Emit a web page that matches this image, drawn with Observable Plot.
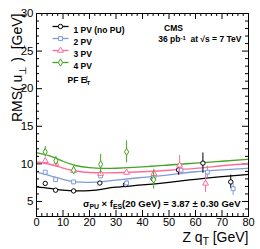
<!DOCTYPE html>
<html>
<head>
<meta charset="utf-8">
<script src="https://cdn.jsdelivr.net/npm/d3@7"></script>
<script src="https://cdn.jsdelivr.net/npm/@observablehq/plot@0.6"></script>
<style>
  html, body { margin: 0; padding: 0; background: white; }
</style>
</head>
<body>
<div id="chart"></div>
<script>
// ---- data ----
const seriesNames = ["1 PV (no PU)", "2 PV", "3 PV", "4 PV"];
const seriesColors = ["#000000", "#7e9bdb", "#ff6c9c", "#44a523"];
const seriesSymbols = ["circle", "square", "triangle", "diamond"];

// measured points
const pv1X = [3.3, 7.2, 14, 23.9, 33.6, 44, 53.6, 62.8, 73.3];
const pv1Y = [7.4, 6.5, 6.4, 7.45, 7.25, 8.0, 9.2, 10.1, 7.6];
const pv1E = [0.15, 0.1, 0.1, 0.15, 0.2, 0.4, 0.7, 1.35, 0.9];

const pv2X = [3.3, 7.2, 14, 24.2, 34, 44.3, 54.5, 64.5, 74.2];
const pv2Y = [8.9, 7.9, 7.6, 8.4, 7.45, 8.3, 9.15, 8.9, 6.7];
const pv2E = [0.15, 0.15, 0.15, 0.2, 0.3, 0.45, 0.6, 0.8, 0.9];

const pv3X = [3.3, 7.3, 14, 24.2, 34, 44.3, 54, 63.8];
const pv3Y = [10.4, 10.0, 9.1, 8.7, 8.85, 8.7, 9.8, 7.4];
const pv3E = [0.2, 0.25, 0.25, 0.3, 0.4, 0.6, 1.3, 1.2];

const pv4X = [3.3, 7.3, 14, 24.2, 34, 44.2];
const pv4Y = [11.6, 10.4, 9.15, 9.95, 11.6, 7.9];
const pv4E = [0.7, 0.6, 0.55, 1.3, 1.45, 1.25];

// fitted curves
const fitX = [0, 5, 10, 15, 20, 25, 30, 40, 50, 60, 70, 80];
const fit1 = [6.95, 6.75, 6.5, 6.4, 6.45, 6.65, 6.9, 7.2, 7.55, 7.95, 8.3, 8.6];
const fit2 = [8.9, 8.45, 7.95, 7.6, 7.55, 7.65, 7.85, 8.2, 8.55, 8.95, 9.2, 9.4];
const fit3 = [10.25, 9.95, 9.45, 9.05, 8.85, 8.8, 8.82, 8.95, 9.15, 9.4, 9.75, 10.05];
const fit4 = [11.5, 11.05, 10.35, 9.75, 9.5, 9.4, 9.42, 9.6, 9.85, 10.1, 10.35, 10.6];

const xMajor = [0, 10, 20, 30, 40, 50, 60, 70, 80];
const yMajor = [5, 10, 15, 20, 25, 30];
const xMinor = d3.range(0, 81, 2).filter(v => v % 10 !== 0);
const yMinor = d3.range(3, 31, 1).filter(v => v % 5 !== 0);

// ---- build tables ----
const pts = [
  [pv1X, pv1Y, pv1E], [pv2X, pv2Y, pv2E], [pv3X, pv3Y, pv3E], [pv4X, pv4Y, pv4E]
].map(([xs, ys, es], s) => xs.map((x, i) => ({s, x, y: ys[i], e: es[i]})));
const fits = [fit1, fit2, fit3, fit4].map((f, s) => fitX.map((x, i) => ({s, x, y: f[i]})));

const W = 260, H = 249;
const mL = 36, mR = 12, mT = 13, mB = 33;
const fw = W - mL - mR, fh = H - mT - mB;
const font = "Liberation Sans, Arial, Helvetica, sans-serif";

const lineSym = { draw(ctx) { ctx.moveTo(-8, 0); ctx.lineTo(8, 0); } };

const marks = [];
// ticks (inward)
marks.push(Plot.tickX(xMajor, {x: d => d, insetTop: fh - 6, stroke: "black"}));
marks.push(Plot.tickX(xMajor, {x: d => d, insetBottom: fh - 6, stroke: "black"}));
marks.push(Plot.tickX(xMinor, {x: d => d, insetTop: fh - 3, stroke: "black"}));
marks.push(Plot.tickX(xMinor, {x: d => d, insetBottom: fh - 3, stroke: "black"}));
marks.push(Plot.tickY(yMajor, {y: d => d, insetRight: fw - 6, stroke: "black"}));
marks.push(Plot.tickY(yMajor, {y: d => d, insetLeft: fw - 6, stroke: "black"}));
marks.push(Plot.tickY(yMinor, {y: d => d, insetRight: fw - 3, stroke: "black"}));
marks.push(Plot.tickY(yMinor, {y: d => d, insetLeft: fw - 3, stroke: "black"}));
// tick labels
marks.push(Plot.text(xMajor, {x: d => d, text: d => String(d), frameAnchor: "bottom", dy: 2, lineAnchor: "top", fontSize: 11, fill: "black"}));
marks.push(Plot.text(yMajor, {y: d => d, text: d => String(d), frameAnchor: "left", dx: -3, textAnchor: "end", fontSize: 11.5, fill: "black"}));

// series
for (let s = 0; s < 4; s++) {
  marks.push(Plot.line(fits[s], {x: "x", y: "y", stroke: seriesColors[s], strokeWidth: 1.3, curve: "natural"}));
}
for (let s = 0; s < 4; s++) {
  marks.push(Plot.ruleX(pts[s], {x: "x", y1: d => d.y - d.e, y2: d => d.y + d.e, stroke: seriesColors[s], strokeWidth: 1}));
  marks.push(Plot.dot(pts[s], {x: "x", y: "y", symbol: seriesSymbols[s], r: 2.2, stroke: seriesColors[s], fill: "white", strokeWidth: 1}));
}

// legend
const rowY = [26, 38, 50, 62];
for (let s = 0; s < 4; s++) {
  marks.push(Plot.dot([0], {frameAnchor: "top-left", dx: 24, dy: rowY[s] - mT, symbol: lineSym, stroke: seriesColors[s], strokeWidth: 1.3}));
  marks.push(Plot.dot([0], {frameAnchor: "top-left", dx: 24, dy: rowY[s] - mT, symbol: seriesSymbols[s], r: 2.2, stroke: seriesColors[s], fill: "white", strokeWidth: 1}));
  marks.push(Plot.text([seriesNames[s]], {text: d => d, frameAnchor: "top-left", dx: 37, dy: rowY[s] - mT, textAnchor: "start", fontWeight: "bold", fontSize: 8.5, fill: "black"}));
}
marks.push(Plot.text(["PF MET"], {text: d => d, frameAnchor: "top-left", dx: 31, dy: 76 - mT, textAnchor: "start", fontWeight: "bold", fontSize: 8.5, fill: "black"}));

// CMS labels
marks.push(Plot.text(["CMS"], {text: d => d, frameAnchor: "top-right", dx: -(W - mR - 173), dy: 24 - mT, textAnchor: "middle", fontWeight: "bold", fontSize: 8.5, fill: "black"}));
marks.push(Plot.text(["LUMI"], {text: d => d, frameAnchor: "top-right", dx: -(W - mR - 241), dy: 35 - mT, textAnchor: "end", fontWeight: "bold", fontSize: 8.5, fill: "black"}));
// annotation
marks.push(Plot.text(["ANNOT"], {text: d => d, frameAnchor: "bottom-right", dx: -(W - mR - 240), dy: -(mT + fh - 206), textAnchor: "end", fontWeight: "bold", fontSize: 9.5, fill: "black"}));

// axis titles
marks.push(Plot.text(["YTITLE"], {text: d => d, frameAnchor: "top-left", dx: 12 - mL, dy: 0, rotate: -90, textAnchor: "end", fontSize: 14, fill: "black"}));
marks.push(Plot.text(["XTITLE"], {text: d => d, frameAnchor: "bottom-right", dx: 0, dy: 241 - (mT + fh), textAnchor: "end", fontSize: 14, fill: "black"}));

marks.push(Plot.frame({stroke: "black", strokeWidth: 1}));

const plot = Plot.plot({
  width: W, height: H,
  marginLeft: mL, marginRight: mR, marginTop: mT, marginBottom: mB,
  x: {domain: [0, 80], axis: null},
  y: {domain: [3, 30], axis: null},
  style: {fontFamily: font, background: "white", overflow: "visible"},
  marks
});

function rich(match, parts) {
  d3.select(plot).selectAll("text").filter(function () { return this.textContent === match; }).each(function () {
    const t = d3.select(this);
    t.text(null);
    for (const [str, kind, extra] of parts) {
      const ts = t.append("tspan").text(str);
      if (kind === "sub") ts.attr("baseline-shift", extra || "-28%").attr("font-size", "72%");
      if (kind === "sup") ts.attr("baseline-shift", "40%").attr("font-size", "70%");
    }
  });
}
rich("PF MET", [["PF "], ["E\u0338"], ["T", "sub"]]);
rich("LUMI", [["36 pb"], ["-1", "sup"], ["  at \u221As = 7 TeV"]]);
rich("ANNOT", [["\u03C3"], ["PU", "sub"], [" \u00D7 f"], ["ES", "sub"], ["(20 GeV) = 3.87 \u00B1 0.30 GeV"]]);
rich("YTITLE", [["RMS( u"], ["\u22A5", "sub", "-35%"], [" )  [GeV]"]]);
rich("XTITLE", [["Z q"], ["T", "sub", "-30%"], [" [GeV]"]]);

document.getElementById("chart").appendChild(plot);
</script>
</body>
</html>
